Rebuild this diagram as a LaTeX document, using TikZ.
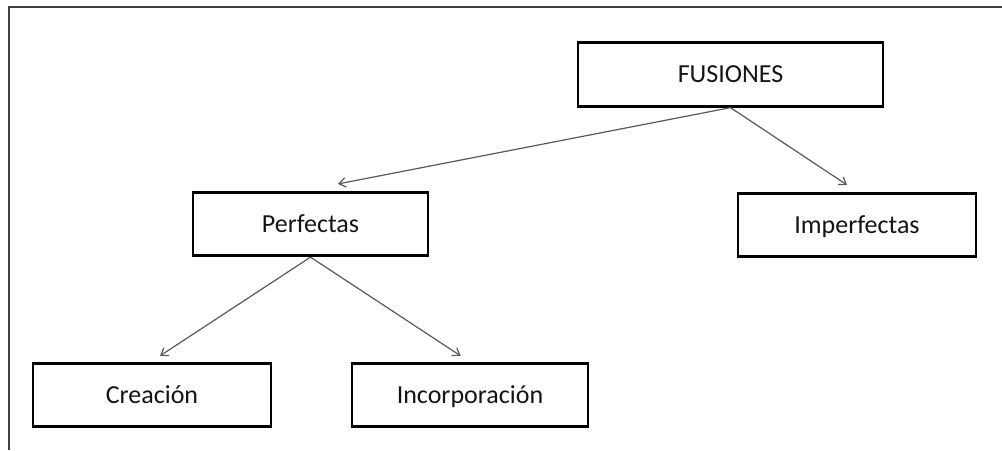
\documentclass[tikz,border=0pt]{standalone}
\usepackage{fontspec}
\setmainfont{Carlito}
\usetikzlibrary{arrows.meta,calc,positioning}

\begin{document}
\begin{tikzpicture}[x=0.75pt,y=-0.75pt]
\tikzset{>={Straight Barb[length=5pt,width=7pt]}, 
  caja/.style={draw=black, line width=2.2pt, minimum height=47.5pt, inner sep=0pt,
    text height=14.6pt, text depth=2pt,
    font=\fontsize{19.5}{23}\selectfont, text=black!92},
  flecha/.style={->, draw=black!65, line width=0.9pt}}
  \useasboundingbox (0,0) rectangle (1002,450);

  % marco
  \draw[line width=1.5pt, black!75] (9,450) -- (9,7) -- (1002,7);

  \node[caja, minimum width=228.75pt] (fus) at (730.5,74.5) {FUSIONES};
  \node[caja, minimum width=176.25pt] (perf) at (310.5,224) {Perfectas};
  \node[caja, minimum width=178.5pt] (imperf) at (857,225) {Imperfectas};
  \node[caja, minimum width=178.5pt] (crea) at (152,395) {Creación};
  \node[caja, minimum width=177pt] (incorp) at (470,395) {Incorporación};

  \draw[flecha] (fus.south) -- ([xshift=20.6pt,yshift=5.2pt]perf.north);
  \draw[flecha] (fus.south) -- ([xshift=-7.5pt,yshift=5.2pt]imperf.north);
  \draw[flecha] (perf.south) -- ([xshift=6pt,yshift=4.5pt]crea.north);
  \draw[flecha] (perf.south) -- ([xshift=-7pt,yshift=4.5pt]incorp.north);
\end{tikzpicture}
\end{document}
